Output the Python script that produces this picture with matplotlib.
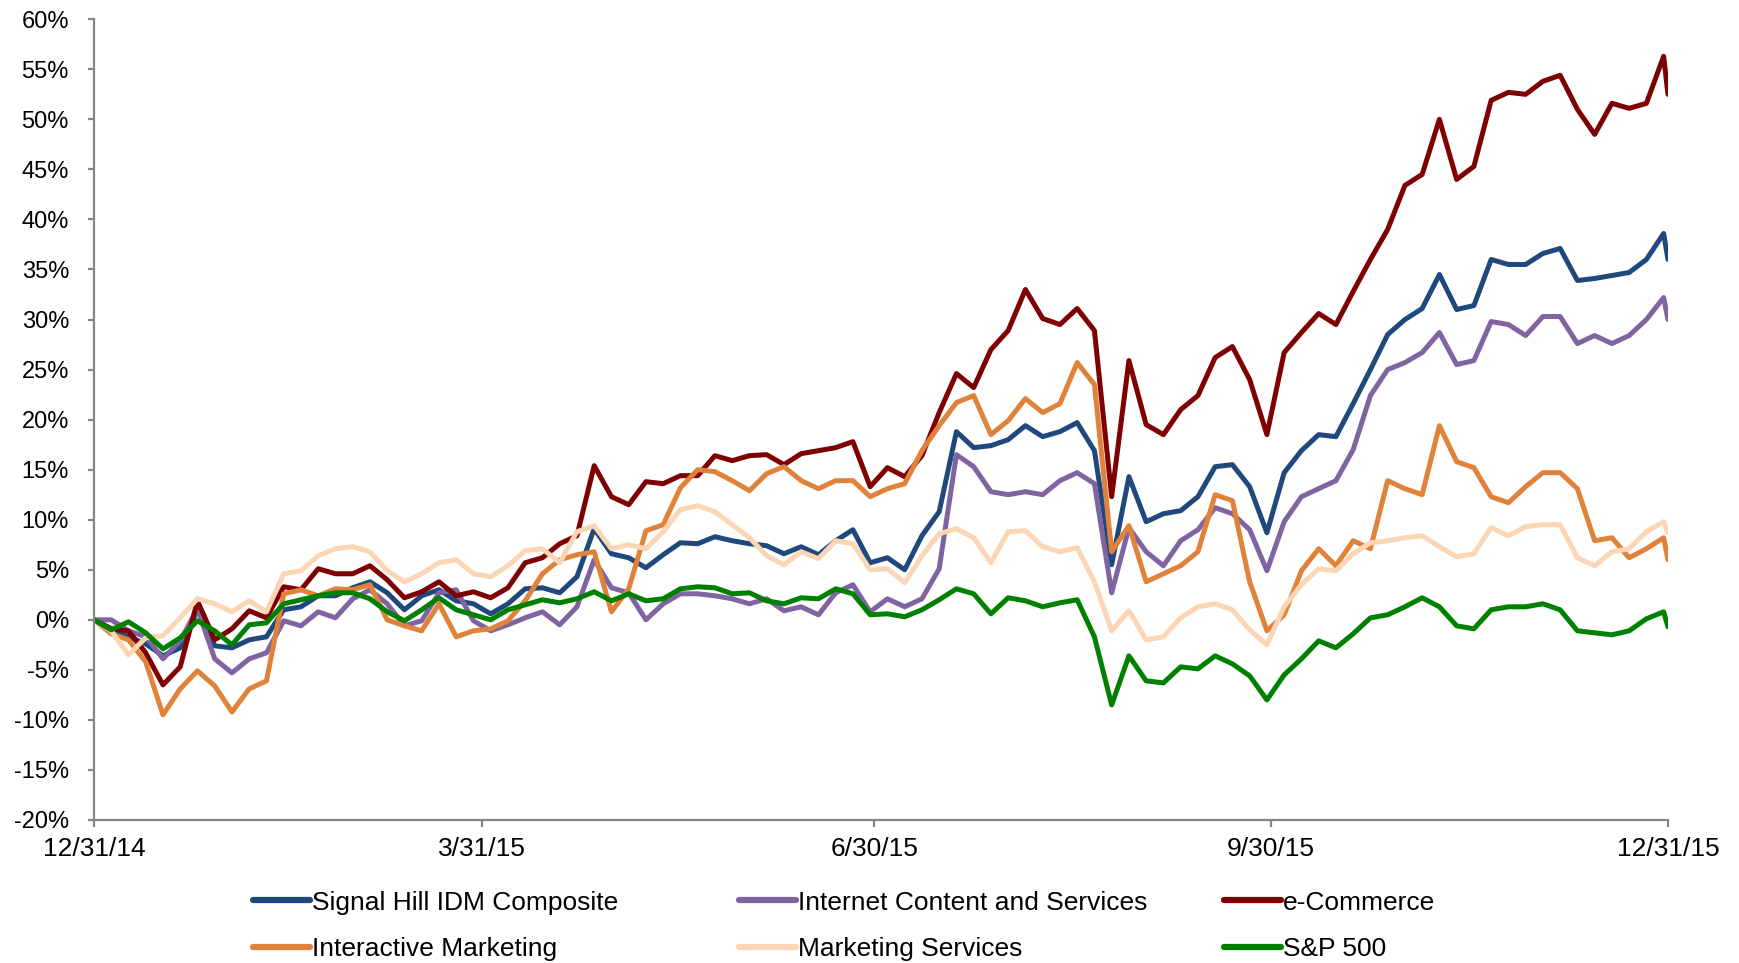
import matplotlib
matplotlib.use('Agg')
import matplotlib.pyplot as plt
import pandas as pd

# sample days since 12/31/14 (every 4 days, plus year end)
days = list(range(0, 365, 4)) + [365]

signal_hill = [
    0, -0.9, -1.7, -2.4, -3.6, -2.8, 1.0, -2.6, -2.8, -2.0,
    -1.7, 1.0, 1.3, 2.4, 2.4, 3.2, 3.8, 2.7, 1.0, 2.4,
    3.0, 1.9, 1.6, 0.6, 1.6, 3.1, 3.2, 2.7, 4.3, 9.1,
    6.6, 6.2, 5.2, 6.5, 7.7, 7.6, 8.3, 7.9, 7.6, 7.4,
    6.6, 7.3, 6.5, 7.9, 9.0, 5.7, 6.2, 5.0, 8.4, 10.8,
    18.8, 17.2, 17.4, 18.0, 19.4, 18.3, 18.8, 19.7, 16.9, 5.5,
    14.3, 9.8, 10.6, 10.9, 12.3, 15.3, 15.5, 13.3, 8.7, 14.7,
    16.9, 18.5, 18.3, 21.6, 25.0, 28.5, 30.0, 31.1, 34.5, 31.0,
    31.4, 36.0, 35.5, 35.5, 36.6, 37.1, 33.9, 34.1, 34.4, 34.7,
    36.0, 38.6, 36.0]

internet = [
    0, 0, -1.1, -1.7, -3.9, -2.1, 1.1, -3.9, -5.3, -3.9,
    -3.3, -0.1, -0.6, 0.8, 0.2, 2.1, 3.0, 1.6, -0.6, -0.1,
    2.7, 3.0, -0.1, -1.1, -0.5, 0.2, 0.8, -0.5, 1.3, 6.0,
    3.2, 2.7, 0.0, 1.6, 2.6, 2.6, 2.4, 2.1, 1.6, 2.1,
    0.9, 1.3, 0.5, 2.7, 3.5, 0.8, 2.1, 1.3, 2.1, 5.1,
    16.5, 15.3, 12.8, 12.5, 12.8, 12.5, 13.9, 14.7, 13.6, 2.7,
    9.2, 6.8, 5.4, 7.9, 9.0, 11.2, 10.6, 9.0, 4.9, 9.8,
    12.3, 13.1, 13.9, 17.0, 22.4, 25.0, 25.7, 26.7, 28.7, 25.5,
    25.9, 29.8, 29.5, 28.4, 30.3, 30.3, 27.6, 28.4, 27.6, 28.4,
    30.0, 32.2, 30.0]

ecommerce = [
    0, -0.9, -1.1, -3.3, -6.5, -4.7, 1.9, -2.0, -0.9, 0.9,
    0.2, 3.3, 3.0, 5.1, 4.6, 4.6, 5.4, 4.0, 2.2, 2.8,
    3.8, 2.4, 2.8, 2.2, 3.2, 5.7, 6.2, 7.6, 8.4, 15.4,
    12.3, 11.5, 13.8, 13.6, 14.4, 14.4, 16.4, 15.9, 16.4, 16.5,
    15.5, 16.6, 16.9, 17.2, 17.8, 13.3, 15.2, 14.3, 16.4, 20.7,
    24.6, 23.2, 27.0, 28.9, 33.0, 30.1, 29.5, 31.1, 28.9, 12.3,
    25.9, 19.5, 18.5, 21.0, 22.4, 26.2, 27.3, 24.0, 18.5, 26.7,
    28.7, 30.6, 29.5, 32.8, 36.0, 39.0, 43.4, 44.5, 50.0, 44.0,
    45.3, 51.9, 52.7, 52.5, 53.8, 54.4, 51.0, 48.5, 51.6, 51.1,
    51.6, 56.3, 52.5]

interactive = [
    0, -1.4, -2.0, -4.2, -9.5, -6.9, -5.1, -6.6, -9.2, -6.9,
    -6.1, 2.6, 3.0, 2.4, 3.1, 3.0, 3.5, 0.0, -0.6, -1.1,
    1.6, -1.7, -1.1, -0.9, -0.1, 1.9, 4.6, 6.0, 6.5, 6.8,
    0.8, 3.1, 8.9, 9.5, 13.2, 15.0, 14.8, 13.9, 12.9, 14.6,
    15.3, 13.9, 13.1, 13.9, 13.9, 12.3, 13.1, 13.6, 16.9, 19.4,
    21.7, 22.4, 18.5, 19.9, 22.1, 20.7, 21.6, 25.7, 23.5, 6.8,
    9.4, 3.8, 4.6, 5.4, 6.8, 12.5, 11.9, 3.8, -1.1, 0.5,
    4.9, 7.1, 5.4, 7.9, 7.1, 13.9, 13.1, 12.5, 19.4, 15.8,
    15.2, 12.3, 11.7, 13.3, 14.7, 14.7, 13.1, 7.9, 8.2, 6.2,
    7.1, 8.2, 6.0]

marketing = [
    0, -1.1, -3.5, -1.8, -1.6, 0.2, 2.1, 1.6, 0.8, 1.9,
    0.8, 4.6, 4.9, 6.4, 7.1, 7.3, 6.8, 4.9, 3.8, 4.6,
    5.7, 6.0, 4.6, 4.3, 5.4, 6.9, 7.1, 5.7, 8.8, 9.4,
    7.1, 7.5, 7.1, 8.8, 11.0, 11.4, 10.8, 9.5, 8.2, 6.4,
    5.5, 6.8, 6.1, 7.9, 7.6, 5.0, 5.1, 3.7, 6.4, 8.6,
    9.1, 8.2, 5.7, 8.8, 8.9, 7.3, 6.8, 7.2, 3.8, -1.1,
    0.9, -2.0, -1.7, 0.2, 1.3, 1.6, 1.0, -1.0, -2.5, 1.3,
    3.5, 5.1, 4.9, 6.6, 7.7, 7.9, 8.2, 8.4, 7.3, 6.3,
    6.6, 9.2, 8.4, 9.3, 9.5, 9.5, 6.2, 5.4, 6.8, 7.1,
    8.8, 9.8, 8.7]

sp500 = [
    0, -1.0, -0.2, -1.3, -2.9, -1.8, -0.1, -1.1, -2.5, -0.5,
    -0.3, 1.6, 2.0, 2.4, 2.7, 2.7, 2.1, 0.8, -0.1, 1.0,
    2.2, 1.0, 0.5, 0.0, 1.0, 1.5, 2.0, 1.7, 2.1, 2.8,
    1.9, 2.6, 1.9, 2.1, 3.1, 3.3, 3.2, 2.6, 2.7, 1.9,
    1.6, 2.2, 2.1, 3.1, 2.6, 0.5, 0.6, 0.3, 1.0, 2.0,
    3.1, 2.6, 0.6, 2.2, 1.9, 1.3, 1.7, 2.0, -1.7, -8.5,
    -3.6, -6.1, -6.3, -4.7, -4.9, -3.6, -4.4, -5.6, -8.0, -5.5,
    -3.9, -2.1, -2.8, -1.4, 0.2, 0.5, 1.3, 2.2, 1.3, -0.6,
    -0.9, 1.0, 1.3, 1.3, 1.6, 1.0, -1.1, -1.3, -1.5, -1.1,
    0.1, 0.8, -0.7]

tick_dates = ['2014-12-31', '2015-03-31', '2015-06-30', '2015-09-30', '2015-12-31']
tick_labels = ['12/31/14', '3/31/15', '6/30/15', '9/30/15', '12/31/15']

SERIES = [
    ('Signal Hill IDM Composite', signal_hill, '#1F497D'),
    ('Internet Content and Services', internet, '#8064A2'),
    ('e-Commerce', ecommerce, '#7F0000'),
    ('Interactive Marketing', interactive, '#E0823A'),
    ('Marketing Services', marketing, '#FCD5B5'),
    ('S&P 500', sp500, '#008000'),
]

plt.rcParams['font.family'] = ['Liberation Sans', 'DejaVu Sans']
plt.rcParams['axes.unicode_minus'] = False

dates = pd.Timestamp('2014-12-31') + pd.to_timedelta(days, unit='D')

fig = plt.figure(figsize=(17.4, 9.63), dpi=100)
ax = fig.add_axes([0.054, 0.1485, 0.9046, 0.8315])

handles = {}
for name, vals, col in SERIES:
    ln, = ax.plot(dates, vals, color=col, linewidth=3.6,
                  solid_joinstyle='round', solid_capstyle='round')
    handles[name] = ln

ax.set_xlim(pd.Timestamp(tick_dates[0]), pd.Timestamp(tick_dates[-1]))
ax.set_ylim(-20, 60)
ax.set_yticks(range(-20, 61, 5))
ax.set_yticklabels([f'{v}%' for v in range(-20, 61, 5)], fontsize=17)
ax.set_xticks([pd.Timestamp(d) for d in tick_dates])
ax.set_xticklabels(tick_labels, fontsize=19)

for s in ['top', 'right']:
    ax.spines[s].set_visible(False)
for s in ['left', 'bottom']:
    ax.spines[s].set_color('#868686')
    ax.spines[s].set_linewidth(1.6)
ax.tick_params(axis='y', direction='out', length=4.5, width=1.6, color='#868686', pad=13.5)
ax.tick_params(axis='x', direction='out', length=5, width=1.6, color='#868686', pad=7)

# legend: three columns placed by hand
cols = [
    (['Signal Hill IDM Composite', 'Interactive Marketing'], 0.1454),
    (['Internet Content and Services', 'Marketing Services'], 0.4247),
    (['e-Commerce', 'S&P 500'], 0.7034),
]
for names, x0 in cols:
    leg = fig.legend([handles[n] for n in names], names, loc='center left',
                     bbox_to_anchor=(x0, 0.0385), frameon=False, fontsize=19,
                     borderpad=0, borderaxespad=0, handlelength=2.15,
                     handletextpad=0.08, labelspacing=0.86)
    for l in leg.get_lines():
        l.set_linewidth(4.5)

fig.savefig('out.png', dpi=100, facecolor='white')
